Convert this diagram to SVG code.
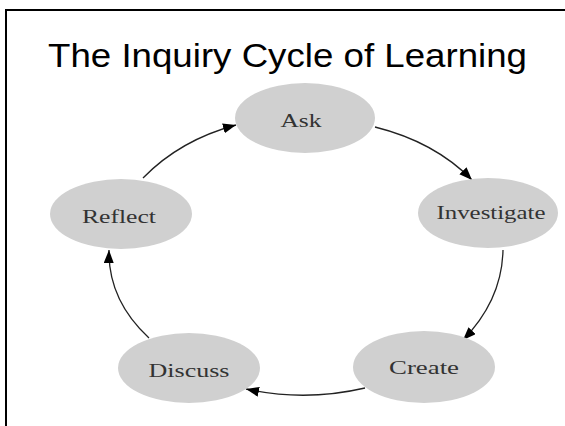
<svg xmlns="http://www.w3.org/2000/svg" width="565" height="426" viewBox="0 0 565 426">
<defs>
<marker id="arr" markerUnits="userSpaceOnUse" markerWidth="14" markerHeight="11" refX="13" refY="5" orient="auto">
<path d="M0,0 L13,5 L0,10 z" fill="#000"/>
</marker>
<style>
.node ellipse{fill:#d0d0d0;stroke:none}
.node text{font-family:"Liberation Serif","DejaVu Serif",serif;font-size:18px;fill:#333;text-anchor:middle}
.conn path{fill:none;stroke:#222;stroke-width:1.3;marker-end:url(#arr)}
</style>
</defs>
<rect x="0" y="0" width="565" height="426" fill="#fff"/>
<rect x="6" y="10" width="600" height="500" fill="none" stroke="#000" stroke-width="2"/>
<text x="48" y="67" font-family="Liberation Sans, Arial, sans-serif" font-size="33" fill="#000" textLength="479" lengthAdjust="spacingAndGlyphs">The Inquiry Cycle of Learning</text>
<g class="conn">
<path d="M375,127 Q435,142 472,180"/>
<path d="M503,250 Q502,300 463,340"/>
<path d="M365,388 Q305,402 246,389"/>
<path d="M149,338 Q108,300 109,250"/>
<path d="M143,178 Q180,140 236,125"/>
</g>
<g id="ask" class="node"><ellipse cx="305" cy="118" rx="70" ry="35"/><text x="301" y="127" textLength="41" lengthAdjust="spacingAndGlyphs">Ask</text></g>
<g id="investigate" class="node"><ellipse cx="488" cy="213" rx="70" ry="35"/><text x="491" y="219" textLength="109" lengthAdjust="spacingAndGlyphs">Investigate</text></g>
<g id="create" class="node"><ellipse cx="424" cy="367" rx="71" ry="36"/><text x="424" y="374" textLength="70" lengthAdjust="spacingAndGlyphs">Create</text></g>
<g id="discuss" class="node"><ellipse cx="189" cy="368" rx="71" ry="35"/><text x="189" y="377" textLength="81" lengthAdjust="spacingAndGlyphs">Discuss</text></g>
<g id="reflect" class="node"><ellipse cx="121" cy="214" rx="71" ry="35"/><text x="119" y="223" textLength="74" lengthAdjust="spacingAndGlyphs">Reflect</text></g>
</svg>
